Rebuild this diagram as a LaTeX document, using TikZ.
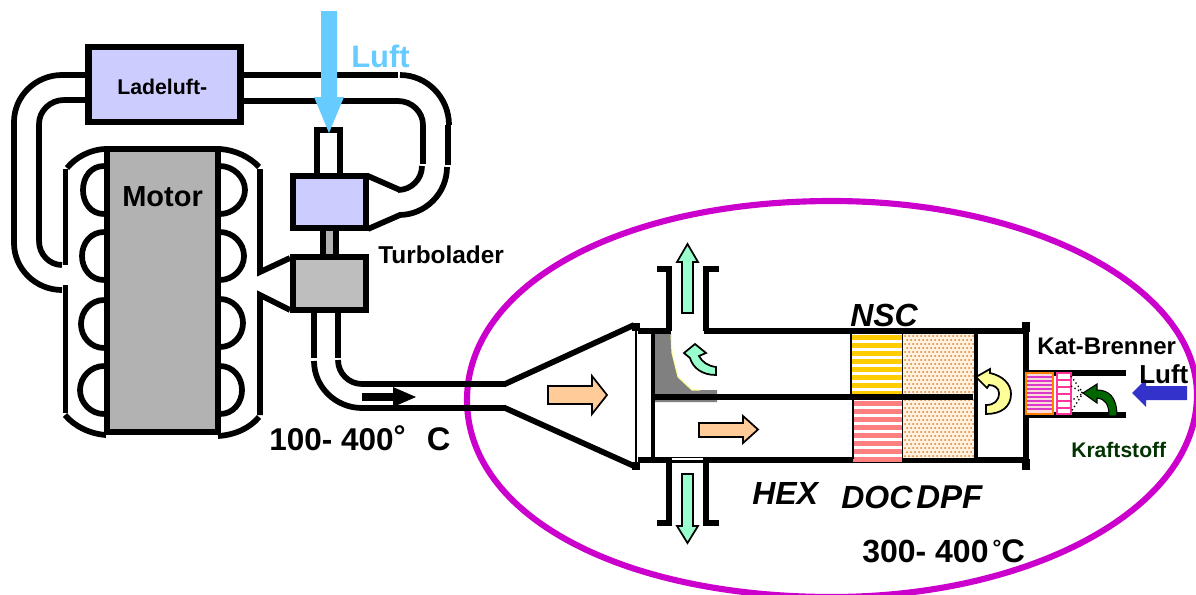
\documentclass[tikz,border=0pt]{standalone}
\usepackage{fontspec}
\setmainfont{Liberation Sans}
\usetikzlibrary{calc}
\definecolor{lilac}{HTML}{CCCCFF}
\definecolor{motorgray}{HTML}{B2B2B2}
\definecolor{turbgray}{HTML}{BEBEBE}
\definecolor{skyb}{HTML}{66CCFF}
\definecolor{mag}{HTML}{CC00CC}
\definecolor{mint}{HTML}{99FFCC}
\definecolor{peach}{HTML}{FFCC99}
\definecolor{paley}{HTML}{FFFF99}
\definecolor{fuel}{HTML}{006600}
\definecolor{kraft}{HTML}{003300}
\definecolor{blueA}{HTML}{3333CC}
\definecolor{yellowcat}{HTML}{FFCC00}
\definecolor{redcat}{HTML}{FF8080}
\definecolor{dotorange}{HTML}{E08020}
\definecolor{dotbg}{HTML}{FFF0E0}
\definecolor{burnpink}{HTML}{FF3399}
\tikzset{
  x=0.75pt,y=-0.75pt,
  pipe/.style={line width=4.3pt,black},
  blockarrow/.style={draw=black,line width=1.3pt,line join=miter},
  lab/.style={inner sep=0pt,anchor=base west,font=\bfseries},
  ilab/.style={inner sep=0pt,anchor=base west,font=\bfseries\itshape},
  bx/.style={draw=black,line width=4.6pt,inner sep=0pt,outer sep=0pt},
}
\newcommand\px[1]{\fontsize{\the\dimexpr #1pt*3/4\relax}{#1pt}\selectfont}
\newcommand\qarc[3]{\draw[pipe] (#1) .. controls ($(#1)!.55!(#2)$) and ($(#3)!.55!(#2)$) .. (#3);}
\newcommand\lloop[2]{\draw[pipe] (104,#1-24) .. controls (91,#1-24) and (#2,#1-13) .. (#2,#1) .. controls (#2,#1+13) and (91,#1+24) .. (104,#1+24);}
\newcommand\rloop[2]{\draw[pipe] (220,#1-24) .. controls (233,#1-24) and (#2,#1-13) .. (#2,#1) .. controls (#2,#1+13) and (233,#1+24) .. (220,#1+24);}
\begin{document}
\begin{tikzpicture}
\useasboundingbox (0,0) rectangle (1196,594);
% ellipse-like outline
\draw[mag,line width=4.6pt] (467,400) .. controls (467,285) and (620,201) .. (832,201) .. controls (1034,201) and (1197,288) .. (1197,395) .. controls (1197,507) and (1034,597) .. (832,597) .. controls (620,597) and (467,515) .. (467,400) -- cycle;
% charge air cooler pipes
\draw[pipe] (85,75) -- (62,75);
\qarc{62,75}{14,75}{14,122}
\draw[pipe] (14,122) -- (14,243);
\qarc{14,243}{14,290}{62,290}
\draw[pipe] (85,100) -- (64,100);
\qarc{64,100}{39,100}{39,124}
\draw[pipe] (39,124) -- (39,241);
\qarc{39,241}{39,265}{62,265}
\draw[pipe] (243,75) -- (398,75);
\qarc{400,75}{449,75}{449,125}
\draw[pipe] (448,125) -- (448,165);
\qarc{447,167}{447,215}{399,215}
\draw[pipe] (400,215) -- (368,229);
\draw[pipe] (243,101) -- (398,101);
\qarc{398,101}{423,101}{423,125}
\draw[pipe] (423,125) -- (423,164);
\qarc{422,166}{422,190}{398,190}
\draw[pipe] (400,190) -- (368,176);
\node[bx,fill=lilac,minimum width=114pt,minimum height=56.2pt] (cooler) at (164.5,84.5) {};
\node[lab] (coolertext) at (117,94) {\px{21.3}Ladeluft-};
% engine outer housing
\draw[pipe] (104,149) .. controls (90,150) and (76,157) .. (67,168);
\draw[pipe] (220,149) .. controls (235,150) and (250,157) .. (259,167);
\draw[pipe] (65.5,169) -- (65.5,265);
\draw[pipe] (65.5,285) -- (65.5,413);
\draw[pipe] (260,169) -- (260,272) -- (290,258);
\draw[pipe] (290,310) -- (260,295) -- (260,415);
\draw[pipe] (65,415) .. controls (74,426) and (90,434) .. (106,435);
\draw[pipe] (259,417) .. controls (250,428) and (235,435) .. (218,436);
\lloop{190}{83}\lloop{256}{82}\lloop{324}{81}\lloop{390}{80}
\rloop{190}{245}\rloop{256}{244}\rloop{323}{243}\rloop{390}{242}
\node[bx,fill=motorgray,minimum width=83.5pt,minimum height=212pt] (motor) at (162.5,290.5) {};
\node[lab] (motortext) at (122,206) {\px{29}Motor};
% turbocharger
\fill[motorgray] (323,230) rectangle (336,256);
\draw[pipe] (323,230) -- (323,256);
\draw[pipe] (336,230) -- (336,256);
\draw[pipe] (317,176) -- (317,130) -- (340,130) -- (340,176);
\node[bx,fill=lilac,minimum width=55pt,minimum height=39pt] (compressor) at (329.5,202) {};
\node[bx,fill=turbgray,minimum width=55pt,minimum height=40pt] (turbine) at (329.5,283.5) {};
\node[lab] (turbotext) at (378,263) {\px{24.4}Turbolader};
% exhaust pipe
\draw[pipe] (314,313) -- (314,358);
\draw[pipe] (338,313) -- (338,358);
\qarc{314,361}{314,408}{362,408}
\qarc{338,360}{338,384}{362,384}
\draw[pipe] (362,384) -- (505,384) -- (634,325);
\draw[pipe] (362,408) -- (505,408) -- (634,466);
\fill (362,393) rectangle (393,401);
\fill (393,387) -- (416,397) -- (393,407) -- cycle;
\node[lab] (t1) at (269,450) {\px{31.5}100- 400{\px{30}\raisebox{3pt}{°}}\kern16pt{\px{32.7}C}};
% main body
\draw[line width=.8pt] (636,326) -- (636,464);
\fill (632,323) rectangle (640,331);
\fill (632,462) rectangle (640,470);
\fill[black!50] (655,334) -- (671,334) -- (672,353) -- (678,377) -- (692,390) -- (717,390) -- (717,402) -- (655,402) -- cycle;
\draw[paley,line width=.8pt] (671,335) -- (672,353) -- (678,377) -- (692,390) -- (700,390);
\draw[pipe] (638,331) -- (671,331);
\draw[pipe] (704,331) -- (1028,331);
\draw[pipe] (638,460) -- (1028,460);
\draw[line width=3.6pt] (653,329) -- (653,460);
\fill[white] (672,458) rectangle (703,460);
\draw[pipe,line width=3.9pt] (657,269) -- (669,269) -- (669,331);
\draw[pipe,line width=3.9pt] (719,269) -- (706,269) -- (706,331);
\draw[pipe,line width=3.9pt] (657,523) -- (669,523) -- (669,460);
\draw[pipe,line width=3.9pt] (719,523) -- (706,523) -- (706,460);
% catalysts
\foreach \y in {335,343,...,391} \fill[yellowcat] (851,\y) rectangle (902,\y+5);
\foreach \y in {401,409,...,457} \fill[redcat] (853,\y) rectangle (902,\y+5);
\fill[dotbg] (903,334) rectangle (975,458);
\foreach \i in {0,...,17} \foreach \j in {0,...,30} \fill[dotorange] ({905+4*\i+mod(\j,2)*2},{336+4*\j}) circle[radius=1];
\draw[line width=.8pt] (851,333) -- (851,396);
\draw[line width=.8pt] (853,398) -- (853,459);
\draw[line width=1pt] (902.5,333) -- (902.5,459);
\draw[line width=3.6pt] (976,333) -- (976,459);
\draw[line width=4.4pt] (655,397) -- (973,397);
\draw[line width=3.9pt] (1026,325) -- (1026,468);
\fill (1022,322) rectangle (1030,332);
\fill (1022,459) rectangle (1030,470);
% arrows
\draw[blockarrow,fill=mint] (682,313) -- (682,262) -- (677,262) -- (687.5,244) -- (698,262) -- (693,262) -- (693,313) -- cycle;
\draw[blockarrow,fill=mint] (682,474) -- (682,526) -- (677,526) -- (687.5,543) -- (698,526) -- (693,526) -- (693,474) -- cycle;
\draw[blockarrow,fill=mint] (716,375) .. controls (702,375) and (693,368) .. (690,358) -- (684,353) -- (695,344) -- (706,353) -- (699,356) .. controls (702,362) and (708,366) .. (716,367) -- cycle;
\draw[blockarrow,fill=peach] (548,386) -- (592,386) -- (592,376) -- (607,395) -- (592,414) -- (592,404) -- (548,404) -- cycle;
\draw[blockarrow,fill=peach] (699,423) -- (743,423) -- (743,416) -- (758,429.5) -- (743,443) -- (743,437) -- (699,437) -- cycle;
\draw[blockarrow,fill=paley] (976,377) -- (990,369) -- (990,373) .. controls (1003,376) and (1011,384) .. (1011,394) .. controls (1011,407) and (1001,414) .. (986,414) -- (986,405) .. controls (994,405) and (999,401) .. (999,393) .. controls (999,388) and (994,385) .. (989,385) -- (987,388) -- cycle;
% labels catalysts
\node[ilab] (nsc) at (850,326) {\px{32}NSC};
\node[ilab] (hex) at (752,504) {\px{32}HEX};
\node[ilab] (doc) at (841,508) {\px{32}DOC};
\node[ilab] (dpf) at (916,508) {\px{33}DPF};
\node[lab] (t4) at (862,562) {\px{32}300- 400\kern3pt{\px{22}\raisebox{4.8pt}{°}}{\px{32.7}C}};
% burner
\draw[pipe] (1026,373) -- (1126,373);
\draw[pipe] (1026,415) -- (1126,415);
\fill[pink!60!white] (1026,373) rectangle (1053,414);
\foreach \y in {376,380,...,410} \fill[mag!70!pink] (1026,\y) rectangle (1053,\y+1.8);
\draw[orange,line width=1.4pt] (1026,373) rectangle (1053,414);
\draw[fill=white,draw=burnpink,line width=1.6pt] (1057,373) rectangle (1071,414);
\foreach \y in {380,387,394,401,408} \draw[burnpink,line width=1.2pt] (1057,\y) -- (1071,\y);
\draw[dotted,line width=1pt] (1071,376) -- (1083,393) -- (1071,412);
\draw[dotted,line width=1pt] (1071,386) -- (1083,393) -- (1071,401);
\draw[fill=fuel,draw=black,line width=.8pt] (1083,393) -- (1097,384) -- (1097,390) .. controls (1108,390) and (1117,396) .. (1117,416) -- (1109,416) .. controls (1109,404) and (1105,399) .. (1097,398) -- (1097,403) -- cycle;
\fill[blueA] (1132,393) -- (1146,379) -- (1146,386) -- (1187,386) -- (1187,400) -- (1146,400) -- (1146,407) -- cycle;
\node[lab] (kat) at (1037,354) {\px{24}Kat-Brenner};
\node[lab] (luft2) at (1139,383) {\px{26}Luft};
\node[lab,text=kraft] (kraftstoff) at (1071,457) {\px{21.1}Kraftstoff};
% air inlet
\fill[skyb] (321,11) -- (337,11) -- (337,97) -- (344,97) -- (329,133) -- (314,97) -- (321,97) -- cycle;
\node[lab,text=skyb] (luft1) at (351,67) {\px{31}Luft};
\end{tikzpicture}
\end{document}
